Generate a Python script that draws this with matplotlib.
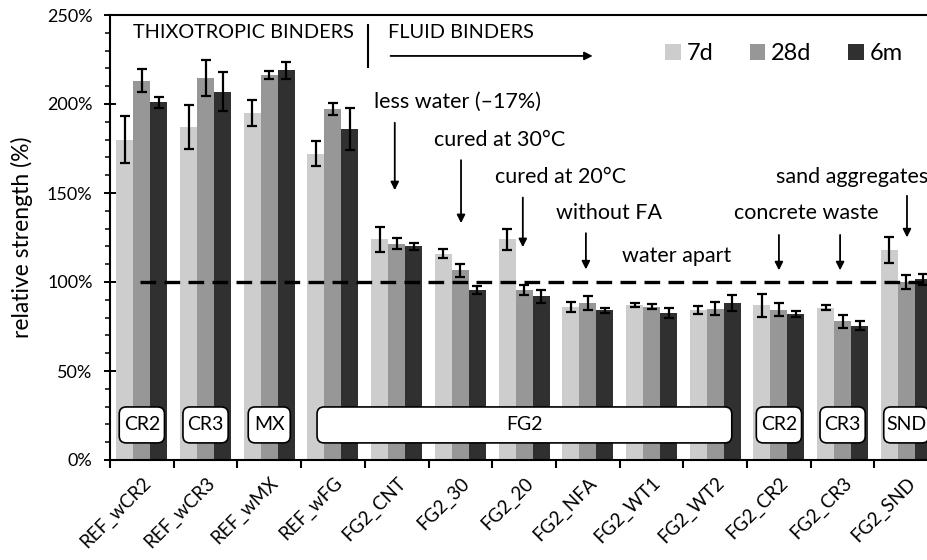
import numpy as np
import matplotlib
matplotlib.use("Agg")
import matplotlib.pyplot as plt
from matplotlib.patches import FancyBboxPatch, Patch

plt.rcParams['font.family'] = ['Lato', 'DejaVu Sans']

mixes = ['REF_wCR2', 'REF_wCR3', 'REF_wMX', 'REF_wFG', 'FG2_CNT', 'FG2_30', 'FG2_20',
         'FG2_NFA', 'FG2_WT1', 'FG2_WT2', 'FG2_CR2', 'FG2_CR3', 'FG2_SND']
ages = ['7d', '28d', '6m']

# relative strength (%) and its scatter, per age
s7d = [180, 187, 195, 172, 124, 116, 124, 86, 87, 84.5, 87, 85.5, 118]
s28d = [213, 214.5, 216.5, 197, 121.5, 106.5, 95.5, 88, 86, 85, 84.5, 78, 100]
s6m = [201, 207, 219, 186, 120, 95.5, 92, 84, 82.5, 88, 82, 75.5, 101.5]
e7d = [13, 12.5, 7.5, 7, 7, 2.3, 6, 3, 1.3, 2.2, 6.5, 1.5, 7.5]
e28d = [6.5, 10, 2.3, 3.4, 3.2, 3.7, 3, 4, 1.4, 3.5, 3.5, 3.7, 3.7]
e6m = [3, 11, 4.7, 12, 2, 2.5, 3.7, 1.6, 2.8, 4.5, 1.8, 2.5, 3.1]

# aggregate type tags shown near the base of the bars
tags = ['CR2', 'CR3', 'MX', 'CR2', 'CR3', 'SND']
tag_pos = [0, 1, 2, 10, 11, 12]

colors = ['#cdcdcd', '#979797', '#303030']

fig = plt.figure(figsize=(9.28, 5.6), dpi=100)
ax = fig.add_axes([110 / 928, 1 - 460 / 560, 1 - 110 / 928, (460 - 15) / 560])

x = np.arange(len(mixes))
w = 0.267
for k, (vals, errs) in enumerate(zip([s7d, s28d, s6m], [e7d, e28d, e6m])):
    ax.bar(x + (k - 1) * w, vals, w, color=colors[k], label=ages[k], zorder=2)
    ax.errorbar(x + (k - 1) * w, vals, yerr=errs, fmt='none', ecolor='black',
                elinewidth=1.6, capsize=3.5, capthick=1.6, zorder=3)

ax.set_xlim(-0.5, 12.34)
ax.set_ylim(0, 250)

# 100 % reference level
ax.plot([-0.03, 12.34], [100, 100], color='black', lw=2.4,
        linestyle=(0, (4.7, 2.5)), zorder=4)

# y axis
ax.set_yticks(np.arange(0, 251, 50))
ax.set_yticks(np.arange(0, 251, 10), minor=True)
ax.set_yticklabels([f'{v}%' for v in range(0, 251, 50)], fontsize=13)
ax.tick_params(axis='y', which='major', direction='inout', length=9, width=1.4, pad=8)
ax.tick_params(axis='y', which='minor', direction='out', length=3.5, width=1.1)
ax.set_ylabel('relative strength (%)', fontsize=16.5, labelpad=10)

# x axis: marks between groups, names under each group
ax.set_xticks(np.arange(-0.5, 12, 1))
ax.set_xticklabels([])
ax.set_xticks(x, minor=True)
ax.set_xticklabels(mixes, minor=True, rotation=45, ha='right',
                   rotation_mode='anchor', fontsize=13.5)
ax.tick_params(axis='x', which='major', direction='out', length=5.5, width=1.5)
ax.tick_params(axis='x', which='minor', length=0, pad=10)

for side in ['left', 'bottom', 'top']:
    ax.spines[side].set_linewidth(1.5)
ax.spines['right'].set_visible(False)

# binder family headers
ax.text(-0.14, 240, 'THIXOTROPIC BINDERS', fontsize=14.3, ha='left', va='center')
ax.plot([3.55, 3.55], [221, 244.5], color='black', lw=1.5)
ax.text(3.86, 240, 'FLUID BINDERS', fontsize=14.3, ha='left', va='center')
ax.annotate('', xy=(7.12, 227), xytext=(3.86, 227),
            arrowprops=dict(arrowstyle='-|>', color='black', lw=1.3, mutation_scale=12))

# notes with arrows pointing at the modified mixes
notes = [
    ('less water (–17%)', 4.96, 201, [(3.97, 191, 150)]),
    ('cured at 30°C', 5.61, 180, [(5.01, 170, 131.5)]),
    ('cured at 20°C', 6.58, 159, [(5.98, 149, 118)]),
    ('without FA', 7.33, 139, [(6.97, 129, 105.5)]),
    ('water apart', 8.40, 114.5, []),
    ('concrete waste', 10.43, 139, [(10.0, 128, 105), (10.96, 128, 105)]),
]
for txt, tx, ty, arrows in notes:
    ax.text(tx, ty, txt, fontsize=15.5, ha='center', va='center')
    for axx, y0, y1 in arrows:
        ax.annotate('', xy=(axx, y1), xytext=(axx, y0),
                    arrowprops=dict(arrowstyle='-|>', color='black', lw=1.3,
                                    mutation_scale=12))
ax.text(9.96, 159, 'sand aggregates', fontsize=15.5, ha='left', va='center', clip_on=False)
ax.annotate('', xy=(12.01, 123.5), xytext=(12.01, 150),
            arrowprops=dict(arrowstyle='-|>', color='black', lw=1.3, mutation_scale=12))

# rounded tags
aspect = (63.7 / 1.78)
def tag_box(x0, x1, label, xc):
    box = FancyBboxPatch((x0, 9.6), x1 - x0, 20.2,
                         boxstyle='round,pad=0,rounding_size=0.11',
                         mutation_aspect=aspect, facecolor='white',
                         edgecolor='black', lw=1.2, zorder=5)
    ax.add_patch(box)
    ax.text(xc, 19.7, label, fontsize=14, ha='center', va='center', zorder=6)

for lab, p in zip(tags, tag_pos):
    hw = 0.33 if lab == 'MX' else 0.355
    tag_box(p - hw, p + hw, lab, p)
tag_box(2.75, 9.26, 'FG2', 6.0)

handles = [Patch(facecolor=c, edgecolor='none') for c in colors]
ax.legend(handles, ages, loc='upper right', bbox_to_anchor=(0.995, 0.985), ncol=3,
          frameon=False, fontsize=17, handlelength=0.65, handleheight=0.65,
          handletextpad=0.25, columnspacing=1.55)

fig.savefig('out.png', dpi=100)
